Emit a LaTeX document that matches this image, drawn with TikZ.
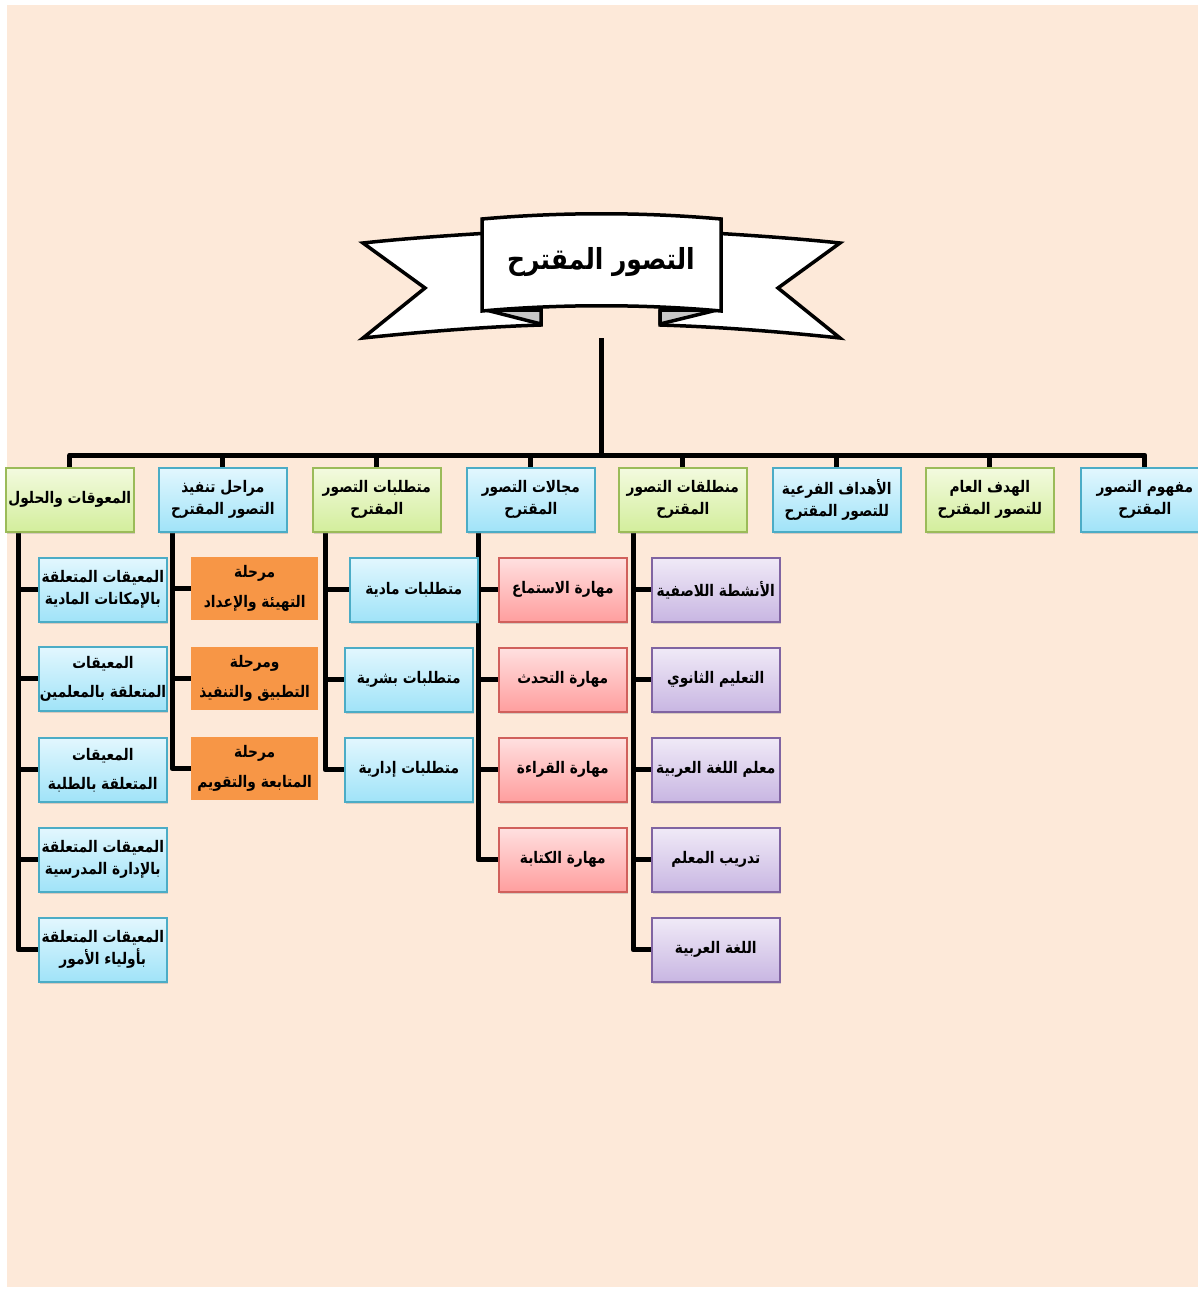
\documentclass[tikz,border=0pt]{standalone}
\usepackage{fontspec}
\usetikzlibrary{shadows,calc}
\TeXXeTstate=1
\newfontfamily\arabfont[Script=Arabic,FakeStretch=0.86]{DejaVu Sans}
\newcommand{\rl}[1]{\beginR #1\endR}
\definecolor{peach}{HTML}{FDE9D9}
\definecolor{bluet}{HTML}{E2F7FE}
\definecolor{blueb}{HTML}{A0E3F8}
\definecolor{bluebd}{HTML}{4BACC6}
\definecolor{greent}{HTML}{F3FADF}
\definecolor{greenb}{HTML}{D3EE9C}
\definecolor{greenbd}{HTML}{9BBB59}
\definecolor{redt}{HTML}{FFE0E0}
\definecolor{redb}{HTML}{FF9E9E}
\definecolor{redbd}{HTML}{D0605C}
\definecolor{purt}{HTML}{F0EAF7}
\definecolor{purb}{HTML}{C8B6E2}
\definecolor{purbd}{HTML}{8064A2}
\definecolor{orng}{HTML}{F79646}
\pgfdeclarelayer{bg}
\pgfsetlayers{bg,main}
\tikzset{
  basebox/.style={minimum width=128pt, minimum height=64pt, inner sep=1pt, align=center,
    font=\arabfont\bfseries\fontsize{16}{22}\selectfont, anchor=north west},
  shbox/.style={basebox, line width=1.6pt, drop shadow={opacity=0.3,shadow xshift=1pt,shadow yshift=-2.5pt}},
  bluebox/.style={shbox, draw=bluebd, top color=bluet, bottom color=blueb},
  greenbox/.style={shbox, draw=greenbd, top color=greent, bottom color=greenb},
  redbox/.style={shbox, draw=redbd, top color=redt, bottom color=redb},
  purbox/.style={shbox, draw=purbd, top color=purt, bottom color=purb},
  orbox/.style={basebox, fill=orng, minimum width=127pt, minimum height=63pt},
  conn/.style={line width=5pt, line join=round, draw=black},
  ribbon/.style={line width=3.5pt, line join=miter, draw=black}
}
\begin{document}
\begin{tikzpicture}[x=1pt,y=-1pt]
\useasboundingbox (0,0) rectangle (1198,1293);
\begin{pgfonlayer}{bg}
\fill[white] (0,0) rectangle (1198,1293);
\fill[peach] (7,5) rectangle (1198,1287);
\end{pgfonlayer}
% banner
\draw[ribbon, fill=white] (490,233) .. controls (440,236) and (400,239) .. (363,243) -- (425,288) -- (363,338)
  .. controls (420,332) and (480,327) .. (541,325) -- (541,300) -- (490,300) -- cycle;
\draw[ribbon, fill=white] (712,233) .. controls (762,236) and (802,239) .. (840,243) -- (778,288) -- (840,338)
  .. controls (783,332) and (723,327) .. (660,325) -- (660,300) -- (712,300) -- cycle;
\draw[ribbon, line join=round, fill=black!22] (486,310) -- (541,310) -- (541,324) -- cycle;
\draw[ribbon, line join=round, fill=black!22] (717,310) -- (660,310) -- (660,324) -- cycle;
\draw[ribbon, fill=white] (482,219) .. controls (560,212) and (643,212) .. (721,219) -- (721,311)
  .. controls (643,304) and (560,304) .. (482,311) -- cycle;
\node[font=\arabfont\bfseries\fontsize{29}{34}\selectfont] (title) at (601,262) {\rl{التصور المقترح}};
\coordinate (tstart) at (601,338);
\coordinate (hub) at (601,455);
% top row
\node[bluebox] (t1) at (1080,467) {\rl{مفهوم التصور}\\\rl{المقترح}};
\node[greenbox] (t2) at (925,467) {\rl{الهدف العام}\\\rl{للتصور المقترح}};
\node[bluebox] (t3) at (772,467) {\rl{الأهداف الفرعية}\\\rl{للتصور المقترح}};
\node[greenbox] (t4) at (618,467) {\rl{منطلقات التصور}\\\rl{المقترح}};
\node[bluebox] (t5) at (466,467) {\rl{مجالات التصور}\\\rl{المقترح}};
\node[greenbox] (t6) at (312,467) {\rl{متطلبات التصور}\\\rl{المقترح}};
\node[bluebox] (t7) at (158,467) {\rl{مراحل تنفيذ}\\\rl{التصور المقترح}};
\node[greenbox] (t8) at (5,467) {\rl{المعوقات والحلول}};
% column under t8
\node[bluebox] (c8a) at (38,557) {\rl{المعيقات المتعلقة}\\\rl{بالإمكانات المادية}};
\node[bluebox] (c8b) at (38,646) {\rl{المعيقات}\\[7pt]\rl{المتعلقة بالمعلمين}};
\node[bluebox] (c8c) at (38,737) {\rl{المعيقات}\\[7pt]\rl{المتعلقة بالطلبة}};
\node[bluebox] (c8d) at (38,827) {\rl{المعيقات المتعلقة}\\\rl{بالإدارة المدرسية}};
\node[bluebox] (c8e) at (38,917) {\rl{المعيقات المتعلقة}\\\rl{بأولياء الأمور}};
% column under t7
\node[orbox] (o1) at (191,557) {\rl{مرحلة}\\[8pt]\rl{التهيئة والإعداد}};
\node[orbox] (o2) at (191,647) {\rl{ومرحلة}\\[8pt]\rl{التطبيق والتنفيذ}};
\node[orbox] (o3) at (191,737) {\rl{مرحلة}\\[8pt]\rl{المتابعة والتقويم}};
% column under t6
\node[bluebox] (c6a) at (349,557) {\rl{متطلبات مادية}};
\node[bluebox] (c6b) at (344,647) {\rl{متطلبات بشرية}};
\node[bluebox] (c6c) at (344,737) {\rl{متطلبات إدارية}};
% column under t5
\node[redbox] (r1) at (498,557) {\rl{مهارة الاستماع}};
\node[redbox] (r2) at (498,647) {\rl{مهارة التحدث}};
\node[redbox] (r3) at (498,737) {\rl{مهارة القراءة}};
\node[redbox] (r4) at (498,827) {\rl{مهارة الكتابة}};
% column under t4
\node[purbox] (p1) at (651,557) {\rl{الأنشطة اللاصفية}};
\node[purbox] (p2) at (651,647) {\rl{التعليم الثانوي}};
\node[purbox] (p3) at (651,737) {\rl{معلم اللغة العربية}};
\node[purbox] (p4) at (651,827) {\rl{تدريب المعلم}};
\node[purbox] (p5) at (651,917) {\rl{اللغة العربية}};
% connectors
\begin{pgfonlayer}{bg}
\foreach \t in {t1,t2,t3,t4,t5,t6,t7,t8}
  \draw[conn] (tstart) -- (hub) -| (\t.north);
\foreach \c in {c8a,c8b,c8c,c8d,c8e}
  \draw[conn] ($(t8.south west)+(13,0)$) |- (\c.west);
\foreach \c in {o1,o2,o3}
  \draw[conn] ($(t7.south west)+(14,0)$) |- (\c.west);
\foreach \c in {c6a,c6b,c6c}
  \draw[conn] ($(t6.south west)+(13,0)$) |- (\c.west);
\foreach \c in {r1,r2,r3,r4}
  \draw[conn] ($(t5.south west)+(12,0)$) |- (\c.west);
\foreach \c in {p1,p2,p3,p4,p5}
  \draw[conn] ($(t4.south west)+(15,0)$) |- (\c.west);
\end{pgfonlayer}
\end{tikzpicture}
\end{document}
